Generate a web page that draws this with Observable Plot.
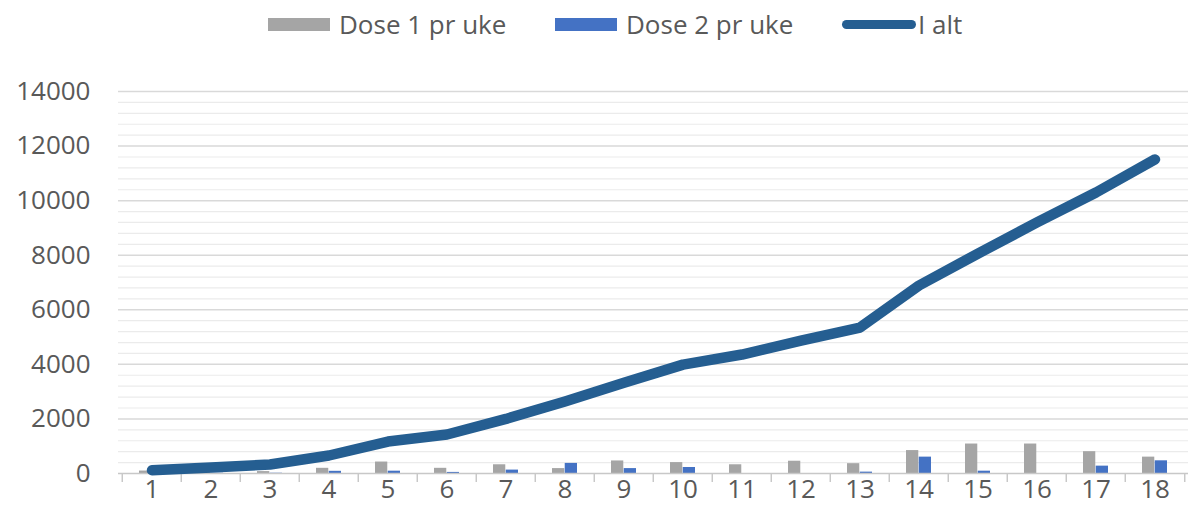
<!DOCTYPE html>
<html>
<head>
<meta charset="utf-8">
<script src="https://cdn.jsdelivr.net/npm/d3@7"></script>
<script src="https://cdn.jsdelivr.net/npm/@observablehq/plot@0.6"></script>
<style>
  html, body { margin: 0; padding: 0; background: #fff; }
  body { width: 1191px; height: 526px; overflow: hidden; font-family: "Open Sans", sans-serif; color: #595959; }
  #legend { height: 48px; position: relative; font-size: 26px; }
  .item { position: absolute; top: 0; height: 48px; display: flex; align-items: center; }
  .sw { display: inline-block; width: 62px; height: 13px; margin-right: 9px; }
  .ln { display: inline-block; width: 74px; height: 9px; border-radius: 5px; background: #255E91; margin-right: 2px; }
</style>
</head>
<body>
<div id="legend"></div>
<div id="chart"></div>
<script>
const weeks = [1,2,3,4,5,6,7,8,9,10,11,12,13,14,15,16,17,18];
const dose1 = [90, 40, 70, 190, 420, 190, 320, 180, 460, 400, 320, 450, 360, 840, 1080, 1080, 800, 600];
const dose2 = [20, 10, 10, 80, 85, 40, 125, 370, 180, 220, 0, 0, 50, 600, 85, 0, 270, 465];
const total = [120, 220, 330, 660, 1170, 1430, 2000, 2640, 3330, 3990, 4360, 4870, 5350, 6890, 8060, 9200, 10300, 11510];
const seriesNames = ["Dose 1 pr uke", "Dose 2 pr uke", "I alt"];
const colors = ["#A5A5A5", "#4472C4", "#255E91"];
const yMajor = d3.range(0, 14001, 2000);
const yMinor = d3.range(0, 14001, 400).filter(v => v % 2000 !== 0);

const data = weeks.map((w, i) => ({week: w, d1: dose1[i], d2: dose2[i], total: total[i]}));

const W = 1191, H = 478, mL = 118, mR = 3, mT = 43, mB = 53;
const bw = (W - mL - mR) / weeks.length;
const barW = bw * 0.214;
const half = bw / 2;

// legend
const legend = document.getElementById("legend");
const lefts = [268, 555, 842];
seriesNames.forEach((name, i) => {
  const it = document.createElement("div");
  it.className = "item";
  it.style.left = lefts[i] + "px";
  const sw = document.createElement("span");
  if (i < 2) { sw.className = "sw"; sw.style.background = colors[i]; }
  else { sw.className = "ln"; }
  it.appendChild(sw);
  const t = document.createElement("span");
  t.textContent = name;
  it.appendChild(t);
  legend.appendChild(it);
});

const fontStyle = {fontSize: "26px", fontFamily: "Open Sans, sans-serif"};

const chart = Plot.plot({
  width: W, height: H,
  marginLeft: mL, marginRight: mR, marginTop: mT, marginBottom: mB,
  style: {...fontStyle, color: "#595959", background: "#fff"},
  x: {type: "band", domain: weeks, padding: 0, label: null},
  y: {domain: [0, 14000], label: null},
  marks: [
    Plot.ruleY(yMinor, {stroke: "#EBEBEB", strokeWidth: 1.2}),
    Plot.ruleY(yMajor.filter(v => v > 0), {stroke: "#D9D9D9", strokeWidth: 1.5}),
    Plot.barY(data, {x: "week", y: "d1", fill: colors[0], insetLeft: half - barW, insetRight: half}),
    Plot.barY(data, {x: "week", y: "d2", fill: colors[1], insetLeft: half, insetRight: half - barW}),
    Plot.ruleY([0], {stroke: "#C8C8C8", strokeWidth: 1.5}),
    Plot.axisX({tickSize: 9, dx: -half, tickFormat: () => "", label: null, stroke: "#C8C8C8", strokeWidth: 1.5}),
    Plot.axisX({ticks: [weeks[weeks.length - 1]], tickSize: 9, dx: half, tickFormat: () => "", label: null, stroke: "#C8C8C8", strokeWidth: 1.5}),
    Plot.axisX({tickSize: 0, tickPadding: 6, label: null, fill: "#595959", fontSize: 26}),
    Plot.axisY({ticks: yMajor, tickSize: 0, tickPadding: 28, label: null, tickFormat: d => String(d), fill: "#595959", fontSize: 26}),
    Plot.line(data, {x: "week", y: "total", stroke: colors[2], strokeWidth: 10.5, strokeLinecap: "round", strokeLinejoin: "round"})
  ]
});
document.getElementById("chart").appendChild(chart);
</script>
</body>
</html>
